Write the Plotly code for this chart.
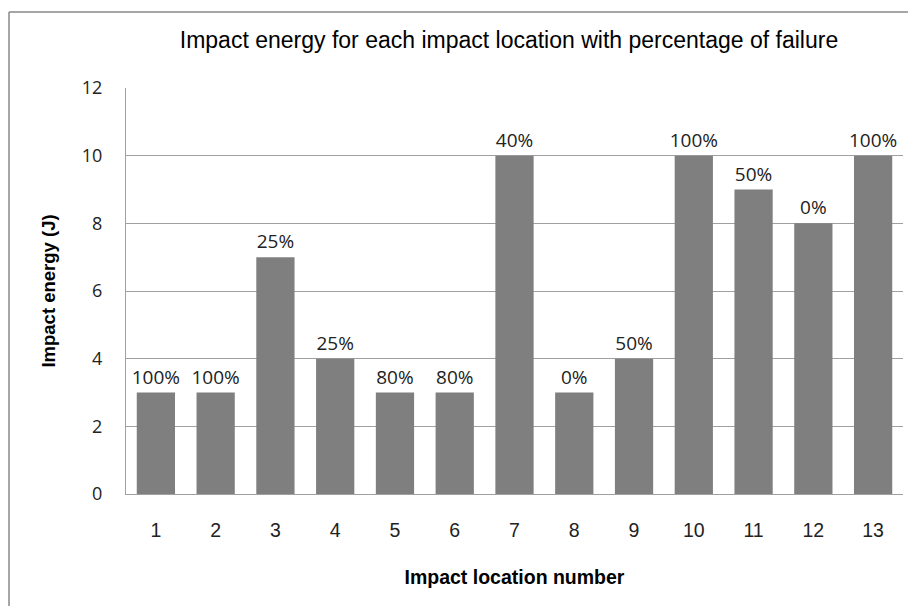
import plotly.graph_objects as go

locations = ["1", "2", "3", "4", "5", "6", "7", "8", "9", "10", "11", "12", "13"]
energy = [3, 3, 7, 4, 3, 3, 10, 3, 4, 10, 9, 8, 10]
failure = ["100%", "100%", "25%", "25%", "80%", "80%", "40%", "0%", "50%", "100%", "50%", "0%", "100%"]
y_ticks = [0, 2, 4, 6, 8, 10, 12]

# page body adds an 8px offset; figure is sized to fill the remaining window
W, H = 908, 598
L, R, T, B = 118, 13, 80, 112
pw, ph = W - L - R, H - T - B

fig = go.Figure(go.Bar(
    x=locations, y=energy, text=failure, textposition="outside",
    constraintext="none",
    marker=dict(color="#7f7f7f", line=dict(width=0)),
    textfont=dict(family="Open Sans, DejaVu Sans", size=19, color="#222222"),
    cliponaxis=False,
))

fig.update_layout(
    width=W, height=H,
    margin=dict(l=L, r=R, t=T, b=B),
    paper_bgcolor="white", plot_bgcolor="white",
    bargap=0.36,
    showlegend=False,
    title=dict(text="Impact energy for each impact location with percentage of failure",
               x=(501 - L) / pw, xref="paper", xanchor="center",
               y=1 - 32 / H, yref="container", yanchor="middle",
               font=dict(family="Liberation Sans, Arial", size=23, color="#000000")),
    xaxis=dict(
        type="category", showgrid=False, showline=True, linecolor="#a0a0a0", linewidth=1,
        ticks="", tickfont=dict(family="Liberation Sans, Arial", size=19.5, color="#222222"),
        ticklabelstandoff=19,
        title=dict(text="<b>Impact location number</b>", standoff=29,
                   font=dict(family="Liberation Sans, Arial", size=19.5, color="#000000")),
    ),
    yaxis=dict(
        range=[0, 12], tickvals=y_ticks, showgrid=True, gridcolor="#a0a0a0", gridwidth=1,
        showline=True, linecolor="#a0a0a0", linewidth=1, zeroline=False, ticks="",
        tickfont=dict(family="Open Sans, DejaVu Sans", size=18, color="#222222"),
        ticklabelstandoff=19,
        title=dict(text="<b>Impact energy (J)</b>", standoff=21,
                   font=dict(family="Liberation Sans, Arial", size=18.5, color="#000000")),
    ),
    shapes=[
        dict(type="line", xref="paper", yref="paper",
             x0=(1 - L) / pw, x1=(W + 5 - L) / pw, y0=1 + (T - 4) / ph, y1=1 + (T - 4) / ph,
             line=dict(color="#888888", width=1.5)),
        dict(type="line", xref="paper", yref="paper",
             x0=(1 - L) / pw, x1=(1 - L) / pw, y0=1 + (T - 4) / ph, y1=-(B + 5) / ph,
             line=dict(color="#888888", width=1.5)),
    ],
)

fig.write_html("out.html")
